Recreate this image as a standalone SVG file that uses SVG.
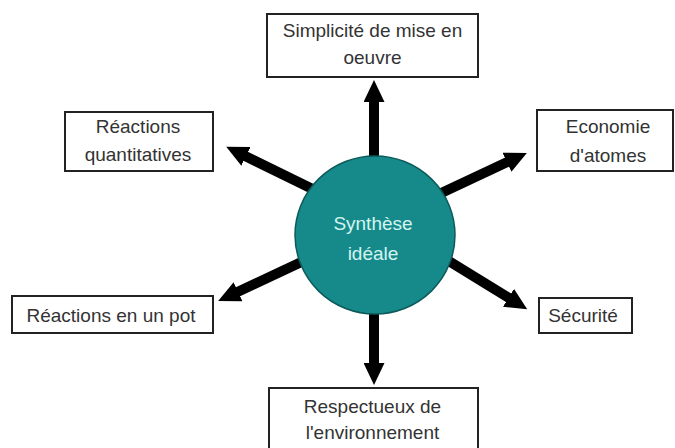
<svg xmlns="http://www.w3.org/2000/svg" width="675" height="448" viewBox="0 0 675 448">
<style>
.box{fill:#fff;stroke:#222;stroke-width:2}
.lbl{font-family:"Liberation Sans",Arial,sans-serif;font-size:19px;fill:#333;text-anchor:middle}
.ctr{font-family:"Liberation Sans",Arial,sans-serif;font-size:19px;fill:#d4f4f0;text-anchor:middle}
.arr{stroke:#000;stroke-width:10;fill:none;marker-end:url(#ah)}
</style>
<defs>
<marker id="ah" markerUnits="userSpaceOnUse" viewBox="0 0 22 21" markerWidth="22" markerHeight="21" refX="10" refY="10.5" orient="auto">
<path d="M0,0 L22,10.5 L0,21 z" fill="#000"/>
</marker>
</defs>
<rect width="675" height="448" fill="#fff"/>
<g id="connectors">
<line class="arr" x1="374" y1="235" x2="374" y2="92"/>
<line class="arr" x1="337" y1="201" x2="237" y2="152"/>
<line class="arr" x1="420" y1="203" x2="516" y2="158"/>
<line class="arr" x1="327" y1="250" x2="229" y2="296"/>
<line class="arr" x1="426" y1="247" x2="517" y2="303"/>
<line class="arr" x1="374" y1="240" x2="374" y2="373"/>
</g>
<g id="center">
<ellipse cx="375" cy="235" rx="80" ry="79" fill="#168a8a" stroke="#0d5a5a" stroke-width="1.5"/>
<text class="ctr" x="373" y="230">Synthèse</text>
<text class="ctr" x="373" y="260">idéale</text>
</g>
<g id="n-simplicite">
<rect class="box" x="267" y="14" width="211" height="63"/>
<text class="lbl" x="372.5" y="37">Simplicité de mise en</text>
<text class="lbl" x="372.5" y="64">oeuvre</text>
</g>
<g id="n-quantitatives">
<rect class="box" x="65" y="112" width="148" height="59"/>
<text class="lbl" x="138" y="133">Réactions</text>
<text class="lbl" x="138" y="161">quantitatives</text>
</g>
<g id="n-economie">
<rect class="box" x="537" y="110" width="136" height="61"/>
<text class="lbl" x="608" y="133">Economie</text>
<text class="lbl" x="608" y="162">d'atomes</text>
</g>
<g id="n-pot">
<rect class="box" x="12" y="296" width="201" height="37"/>
<text class="lbl" x="111" y="322">Réactions en un pot</text>
</g>
<g id="n-securite">
<rect class="box" x="539" y="298" width="93" height="35"/>
<text class="lbl" x="583" y="322">Sécurité</text>
</g>
<g id="n-environnement">
<rect class="box" x="269" y="388" width="209" height="70"/>
<text class="lbl" x="372.5" y="413">Respectueux de</text>
<text class="lbl" x="372.5" y="439">l'environnement</text>
</g>
</svg>
